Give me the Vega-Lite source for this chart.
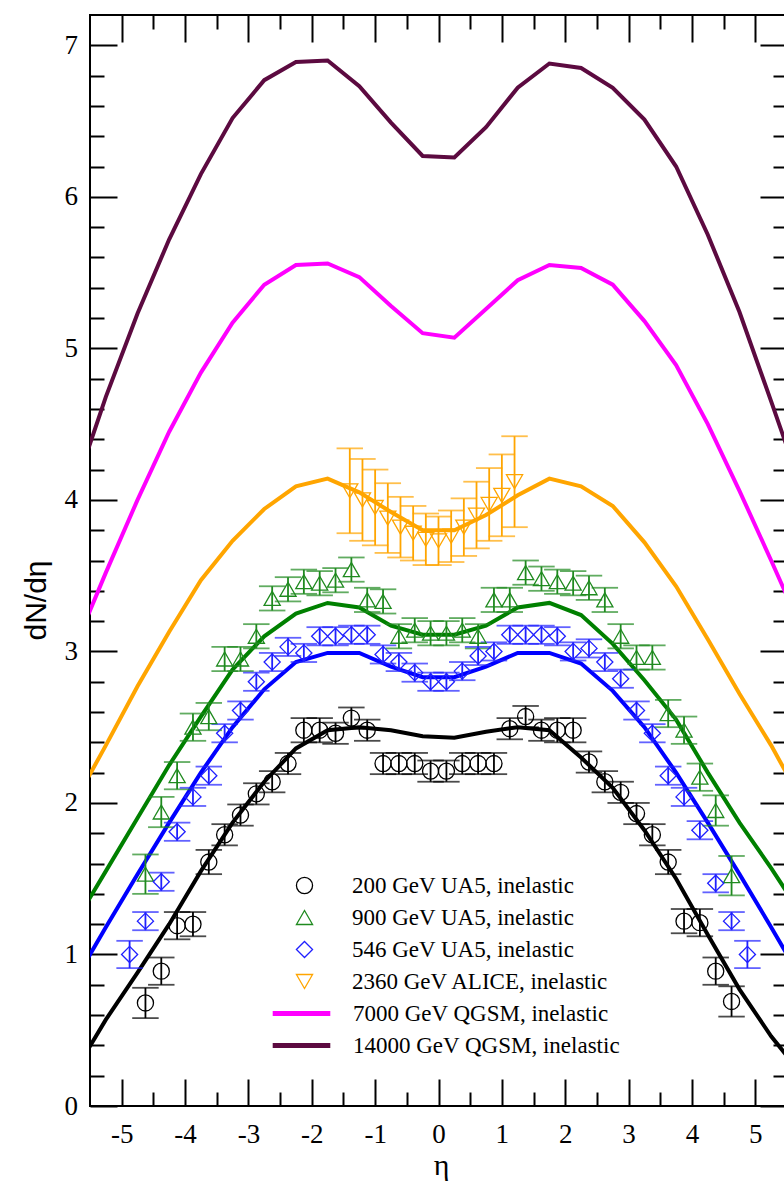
{
  "$schema": "https://vega.github.io/schema/vega-lite/v6.json",
  "width": 697,
  "height": 1091,
  "autosize": {"type": "none"},
  "padding": {"left": 90, "top": 15, "right": -3, "bottom": 78},
  "background": "white",
  "config": {
    "view": {"stroke": "black", "strokeWidth": 2},
    "axis": {"grid": false, "domain": false}
  },
  "datasets": {
    "curves": [
      {"model": "200 GeV QGSM", "eta": -5.75, "v": 0.22}, {"model": "200 GeV QGSM", "eta": -5.25, "v": 0.57}, {"model": "200 GeV QGSM", "eta": -4.75, "v": 0.88}, {"model": "200 GeV QGSM", "eta": -4.25, "v": 1.2}, {"model": "200 GeV QGSM", "eta": -3.75, "v": 1.55}, {"model": "200 GeV QGSM", "eta": -3.25, "v": 1.87}, {"model": "200 GeV QGSM", "eta": -2.75, "v": 2.14}, {"model": "200 GeV QGSM", "eta": -2.25, "v": 2.36}, {"model": "200 GeV QGSM", "eta": -1.75, "v": 2.48}, {"model": "200 GeV QGSM", "eta": -1.25, "v": 2.5}, {"model": "200 GeV QGSM", "eta": -0.75, "v": 2.48}, {"model": "200 GeV QGSM", "eta": -0.25, "v": 2.44}, {"model": "200 GeV QGSM", "eta": 0.25, "v": 2.43}, {"model": "200 GeV QGSM", "eta": 0.75, "v": 2.47}, {"model": "200 GeV QGSM", "eta": 1.25, "v": 2.5}, {"model": "200 GeV QGSM", "eta": 1.75, "v": 2.48}, {"model": "200 GeV QGSM", "eta": 2.25, "v": 2.3}, {"model": "200 GeV QGSM", "eta": 2.75, "v": 2.1}, {"model": "200 GeV QGSM", "eta": 3.25, "v": 1.82}, {"model": "200 GeV QGSM", "eta": 3.75, "v": 1.5}, {"model": "200 GeV QGSM", "eta": 4.25, "v": 1.13}, {"model": "200 GeV QGSM", "eta": 4.75, "v": 0.77}, {"model": "200 GeV QGSM", "eta": 5.25, "v": 0.46}, {"model": "200 GeV QGSM", "eta": 5.75, "v": 0.2},
      {"model": "546 GeV QGSM", "eta": -5.75, "v": 0.82}, {"model": "546 GeV QGSM", "eta": -5.25, "v": 1.18}, {"model": "546 GeV QGSM", "eta": -4.75, "v": 1.53}, {"model": "546 GeV QGSM", "eta": -4.25, "v": 1.87}, {"model": "546 GeV QGSM", "eta": -3.75, "v": 2.2}, {"model": "546 GeV QGSM", "eta": -3.25, "v": 2.5}, {"model": "546 GeV QGSM", "eta": -2.75, "v": 2.75}, {"model": "546 GeV QGSM", "eta": -2.25, "v": 2.93}, {"model": "546 GeV QGSM", "eta": -1.75, "v": 2.99}, {"model": "546 GeV QGSM", "eta": -1.25, "v": 2.99}, {"model": "546 GeV QGSM", "eta": -0.75, "v": 2.9}, {"model": "546 GeV QGSM", "eta": -0.25, "v": 2.83}, {"model": "546 GeV QGSM", "eta": 0.25, "v": 2.83}, {"model": "546 GeV QGSM", "eta": 0.75, "v": 2.9}, {"model": "546 GeV QGSM", "eta": 1.25, "v": 2.99}, {"model": "546 GeV QGSM", "eta": 1.75, "v": 2.99}, {"model": "546 GeV QGSM", "eta": 2.25, "v": 2.92}, {"model": "546 GeV QGSM", "eta": 2.75, "v": 2.74}, {"model": "546 GeV QGSM", "eta": 3.25, "v": 2.5}, {"model": "546 GeV QGSM", "eta": 3.75, "v": 2.2}, {"model": "546 GeV QGSM", "eta": 4.25, "v": 1.87}, {"model": "546 GeV QGSM", "eta": 4.75, "v": 1.53}, {"model": "546 GeV QGSM", "eta": 5.25, "v": 1.18}, {"model": "546 GeV QGSM", "eta": 5.75, "v": 0.82},
      {"model": "900 GeV QGSM", "eta": -5.75, "v": 1.2}, {"model": "900 GeV QGSM", "eta": -5.25, "v": 1.55}, {"model": "900 GeV QGSM", "eta": -4.75, "v": 1.9}, {"model": "900 GeV QGSM", "eta": -4.25, "v": 2.25}, {"model": "900 GeV QGSM", "eta": -3.75, "v": 2.57}, {"model": "900 GeV QGSM", "eta": -3.25, "v": 2.88}, {"model": "900 GeV QGSM", "eta": -2.75, "v": 3.1}, {"model": "900 GeV QGSM", "eta": -2.25, "v": 3.25}, {"model": "900 GeV QGSM", "eta": -1.75, "v": 3.32}, {"model": "900 GeV QGSM", "eta": -1.25, "v": 3.29}, {"model": "900 GeV QGSM", "eta": -0.75, "v": 3.17}, {"model": "900 GeV QGSM", "eta": -0.25, "v": 3.11}, {"model": "900 GeV QGSM", "eta": 0.25, "v": 3.11}, {"model": "900 GeV QGSM", "eta": 0.75, "v": 3.17}, {"model": "900 GeV QGSM", "eta": 1.25, "v": 3.29}, {"model": "900 GeV QGSM", "eta": 1.75, "v": 3.32}, {"model": "900 GeV QGSM", "eta": 2.25, "v": 3.24}, {"model": "900 GeV QGSM", "eta": 2.75, "v": 3.05}, {"model": "900 GeV QGSM", "eta": 3.25, "v": 2.81}, {"model": "900 GeV QGSM", "eta": 3.75, "v": 2.55}, {"model": "900 GeV QGSM", "eta": 4.25, "v": 2.2}, {"model": "900 GeV QGSM", "eta": 4.75, "v": 1.87}, {"model": "900 GeV QGSM", "eta": 5.25, "v": 1.57}, {"model": "900 GeV QGSM", "eta": 5.75, "v": 1.25},
      {"model": "2360 GeV QGSM", "eta": -5.75, "v": 2.0}, {"model": "2360 GeV QGSM", "eta": -5.25, "v": 2.38}, {"model": "2360 GeV QGSM", "eta": -4.75, "v": 2.77}, {"model": "2360 GeV QGSM", "eta": -4.25, "v": 3.13}, {"model": "2360 GeV QGSM", "eta": -3.75, "v": 3.47}, {"model": "2360 GeV QGSM", "eta": -3.25, "v": 3.73}, {"model": "2360 GeV QGSM", "eta": -2.75, "v": 3.94}, {"model": "2360 GeV QGSM", "eta": -2.25, "v": 4.09}, {"model": "2360 GeV QGSM", "eta": -1.75, "v": 4.14}, {"model": "2360 GeV QGSM", "eta": -1.25, "v": 4.05}, {"model": "2360 GeV QGSM", "eta": -0.75, "v": 3.92}, {"model": "2360 GeV QGSM", "eta": -0.25, "v": 3.8}, {"model": "2360 GeV QGSM", "eta": 0.25, "v": 3.8}, {"model": "2360 GeV QGSM", "eta": 0.75, "v": 3.9}, {"model": "2360 GeV QGSM", "eta": 1.25, "v": 4.03}, {"model": "2360 GeV QGSM", "eta": 1.75, "v": 4.14}, {"model": "2360 GeV QGSM", "eta": 2.25, "v": 4.09}, {"model": "2360 GeV QGSM", "eta": 2.75, "v": 3.96}, {"model": "2360 GeV QGSM", "eta": 3.25, "v": 3.72}, {"model": "2360 GeV QGSM", "eta": 3.75, "v": 3.43}, {"model": "2360 GeV QGSM", "eta": 4.25, "v": 3.08}, {"model": "2360 GeV QGSM", "eta": 4.75, "v": 2.72}, {"model": "2360 GeV QGSM", "eta": 5.25, "v": 2.38}, {"model": "2360 GeV QGSM", "eta": 5.75, "v": 2.0},
      {"model": "7000 GeV QGSM, inelastic", "eta": -5.75, "v": 3.02}, {"model": "7000 GeV QGSM, inelastic", "eta": -5.25, "v": 3.52}, {"model": "7000 GeV QGSM, inelastic", "eta": -4.75, "v": 4.0}, {"model": "7000 GeV QGSM, inelastic", "eta": -4.25, "v": 4.45}, {"model": "7000 GeV QGSM, inelastic", "eta": -3.75, "v": 4.84}, {"model": "7000 GeV QGSM, inelastic", "eta": -3.25, "v": 5.17}, {"model": "7000 GeV QGSM, inelastic", "eta": -2.75, "v": 5.42}, {"model": "7000 GeV QGSM, inelastic", "eta": -2.25, "v": 5.55}, {"model": "7000 GeV QGSM, inelastic", "eta": -1.75, "v": 5.56}, {"model": "7000 GeV QGSM, inelastic", "eta": -1.25, "v": 5.47}, {"model": "7000 GeV QGSM, inelastic", "eta": -0.75, "v": 5.28}, {"model": "7000 GeV QGSM, inelastic", "eta": -0.25, "v": 5.1}, {"model": "7000 GeV QGSM, inelastic", "eta": 0.25, "v": 5.07}, {"model": "7000 GeV QGSM, inelastic", "eta": 0.75, "v": 5.26}, {"model": "7000 GeV QGSM, inelastic", "eta": 1.25, "v": 5.45}, {"model": "7000 GeV QGSM, inelastic", "eta": 1.75, "v": 5.55}, {"model": "7000 GeV QGSM, inelastic", "eta": 2.25, "v": 5.53}, {"model": "7000 GeV QGSM, inelastic", "eta": 2.75, "v": 5.42}, {"model": "7000 GeV QGSM, inelastic", "eta": 3.25, "v": 5.18}, {"model": "7000 GeV QGSM, inelastic", "eta": 3.75, "v": 4.89}, {"model": "7000 GeV QGSM, inelastic", "eta": 4.25, "v": 4.5}, {"model": "7000 GeV QGSM, inelastic", "eta": 4.75, "v": 4.06}, {"model": "7000 GeV QGSM, inelastic", "eta": 5.25, "v": 3.6}, {"model": "7000 GeV QGSM, inelastic", "eta": 5.75, "v": 3.13},
      {"model": "14000 GeV QGSM, inelastic", "eta": -5.75, "v": 4.06}, {"model": "14000 GeV QGSM, inelastic", "eta": -5.25, "v": 4.68}, {"model": "14000 GeV QGSM, inelastic", "eta": -4.75, "v": 5.23}, {"model": "14000 GeV QGSM, inelastic", "eta": -4.25, "v": 5.72}, {"model": "14000 GeV QGSM, inelastic", "eta": -3.75, "v": 6.15}, {"model": "14000 GeV QGSM, inelastic", "eta": -3.25, "v": 6.52}, {"model": "14000 GeV QGSM, inelastic", "eta": -2.75, "v": 6.77}, {"model": "14000 GeV QGSM, inelastic", "eta": -2.25, "v": 6.89}, {"model": "14000 GeV QGSM, inelastic", "eta": -1.75, "v": 6.9}, {"model": "14000 GeV QGSM, inelastic", "eta": -1.25, "v": 6.73}, {"model": "14000 GeV QGSM, inelastic", "eta": -0.75, "v": 6.49}, {"model": "14000 GeV QGSM, inelastic", "eta": -0.25, "v": 6.27}, {"model": "14000 GeV QGSM, inelastic", "eta": 0.25, "v": 6.26}, {"model": "14000 GeV QGSM, inelastic", "eta": 0.75, "v": 6.46}, {"model": "14000 GeV QGSM, inelastic", "eta": 1.25, "v": 6.72}, {"model": "14000 GeV QGSM, inelastic", "eta": 1.75, "v": 6.88}, {"model": "14000 GeV QGSM, inelastic", "eta": 2.25, "v": 6.85}, {"model": "14000 GeV QGSM, inelastic", "eta": 2.75, "v": 6.72}, {"model": "14000 GeV QGSM, inelastic", "eta": 3.25, "v": 6.51}, {"model": "14000 GeV QGSM, inelastic", "eta": 3.75, "v": 6.2}, {"model": "14000 GeV QGSM, inelastic", "eta": 4.25, "v": 5.75}, {"model": "14000 GeV QGSM, inelastic", "eta": 4.75, "v": 5.24}, {"model": "14000 GeV QGSM, inelastic", "eta": 5.25, "v": 4.65}, {"model": "14000 GeV QGSM, inelastic", "eta": 5.75, "v": 4.05}
    ],
    "pts": [
      {"series": "200 GeV UA5, inelastic", "eta": -4.625, "v": 0.68, "lo": 0.58, "hi": 0.78},
      {"series": "200 GeV UA5, inelastic", "eta": -4.375, "v": 0.89, "lo": 0.8, "hi": 0.98},
      {"series": "200 GeV UA5, inelastic", "eta": -4.125, "v": 1.19, "lo": 1.1, "hi": 1.28},
      {"series": "200 GeV UA5, inelastic", "eta": -3.875, "v": 1.2, "lo": 1.12, "hi": 1.28},
      {"series": "200 GeV UA5, inelastic", "eta": -3.625, "v": 1.61, "lo": 1.53, "hi": 1.69},
      {"series": "200 GeV UA5, inelastic", "eta": -3.375, "v": 1.79, "lo": 1.72, "hi": 1.86},
      {"series": "200 GeV UA5, inelastic", "eta": -3.125, "v": 1.92, "lo": 1.85, "hi": 1.99},
      {"series": "200 GeV UA5, inelastic", "eta": -2.875, "v": 2.06, "lo": 1.99, "hi": 2.13},
      {"series": "200 GeV UA5, inelastic", "eta": -2.625, "v": 2.14, "lo": 2.07, "hi": 2.21},
      {"series": "200 GeV UA5, inelastic", "eta": -2.375, "v": 2.26, "lo": 2.19, "hi": 2.33},
      {"series": "200 GeV UA5, inelastic", "eta": -2.125, "v": 2.48, "lo": 2.4, "hi": 2.56},
      {"series": "200 GeV UA5, inelastic", "eta": -1.875, "v": 2.48, "lo": 2.4, "hi": 2.56},
      {"series": "200 GeV UA5, inelastic", "eta": -1.625, "v": 2.46, "lo": 2.39, "hi": 2.53},
      {"series": "200 GeV UA5, inelastic", "eta": -1.375, "v": 2.56, "lo": 2.49, "hi": 2.63},
      {"series": "200 GeV UA5, inelastic", "eta": -1.125, "v": 2.48, "lo": 2.41, "hi": 2.55},
      {"series": "200 GeV UA5, inelastic", "eta": -0.875, "v": 2.26, "lo": 2.19, "hi": 2.33},
      {"series": "200 GeV UA5, inelastic", "eta": -0.625, "v": 2.26, "lo": 2.19, "hi": 2.33},
      {"series": "200 GeV UA5, inelastic", "eta": -0.375, "v": 2.26, "lo": 2.19, "hi": 2.33},
      {"series": "200 GeV UA5, inelastic", "eta": -0.125, "v": 2.21, "lo": 2.14, "hi": 2.28},
      {"series": "200 GeV UA5, inelastic", "eta": 0.125, "v": 2.21, "lo": 2.14, "hi": 2.28},
      {"series": "200 GeV UA5, inelastic", "eta": 0.375, "v": 2.26, "lo": 2.19, "hi": 2.33},
      {"series": "200 GeV UA5, inelastic", "eta": 0.625, "v": 2.26, "lo": 2.19, "hi": 2.33},
      {"series": "200 GeV UA5, inelastic", "eta": 0.875, "v": 2.26, "lo": 2.19, "hi": 2.33},
      {"series": "200 GeV UA5, inelastic", "eta": 1.125, "v": 2.49, "lo": 2.42, "hi": 2.56},
      {"series": "200 GeV UA5, inelastic", "eta": 1.375, "v": 2.57, "lo": 2.5, "hi": 2.64},
      {"series": "200 GeV UA5, inelastic", "eta": 1.625, "v": 2.48, "lo": 2.41, "hi": 2.55},
      {"series": "200 GeV UA5, inelastic", "eta": 1.875, "v": 2.48, "lo": 2.4, "hi": 2.56},
      {"series": "200 GeV UA5, inelastic", "eta": 2.125, "v": 2.48, "lo": 2.4, "hi": 2.56},
      {"series": "200 GeV UA5, inelastic", "eta": 2.375, "v": 2.27, "lo": 2.2, "hi": 2.34},
      {"series": "200 GeV UA5, inelastic", "eta": 2.625, "v": 2.14, "lo": 2.07, "hi": 2.21},
      {"series": "200 GeV UA5, inelastic", "eta": 2.875, "v": 2.07, "lo": 2.0, "hi": 2.14},
      {"series": "200 GeV UA5, inelastic", "eta": 3.125, "v": 1.93, "lo": 1.86, "hi": 2.0},
      {"series": "200 GeV UA5, inelastic", "eta": 3.375, "v": 1.79, "lo": 1.72, "hi": 1.86},
      {"series": "200 GeV UA5, inelastic", "eta": 3.625, "v": 1.61, "lo": 1.53, "hi": 1.69},
      {"series": "200 GeV UA5, inelastic", "eta": 3.875, "v": 1.22, "lo": 1.14, "hi": 1.3},
      {"series": "200 GeV UA5, inelastic", "eta": 4.125, "v": 1.21, "lo": 1.12, "hi": 1.3},
      {"series": "200 GeV UA5, inelastic", "eta": 4.375, "v": 0.89, "lo": 0.8, "hi": 0.98},
      {"series": "200 GeV UA5, inelastic", "eta": 4.625, "v": 0.69, "lo": 0.59, "hi": 0.79},
      {"series": "900 GeV UA5, inelastic", "eta": -4.625, "v": 1.53, "lo": 1.4, "hi": 1.66},
      {"series": "900 GeV UA5, inelastic", "eta": -4.375, "v": 1.94, "lo": 1.84, "hi": 2.04},
      {"series": "900 GeV UA5, inelastic", "eta": -4.125, "v": 2.18, "lo": 2.09, "hi": 2.27},
      {"series": "900 GeV UA5, inelastic", "eta": -3.875, "v": 2.5, "lo": 2.41, "hi": 2.59},
      {"series": "900 GeV UA5, inelastic", "eta": -3.625, "v": 2.57, "lo": 2.48, "hi": 2.66},
      {"series": "900 GeV UA5, inelastic", "eta": -3.375, "v": 2.95, "lo": 2.87, "hi": 3.03},
      {"series": "900 GeV UA5, inelastic", "eta": -3.125, "v": 2.95, "lo": 2.87, "hi": 3.03},
      {"series": "900 GeV UA5, inelastic", "eta": -2.875, "v": 3.1, "lo": 3.02, "hi": 3.18},
      {"series": "900 GeV UA5, inelastic", "eta": -2.625, "v": 3.35, "lo": 3.27, "hi": 3.43},
      {"series": "900 GeV UA5, inelastic", "eta": -2.375, "v": 3.41, "lo": 3.33, "hi": 3.49},
      {"series": "900 GeV UA5, inelastic", "eta": -2.125, "v": 3.46, "lo": 3.38, "hi": 3.54},
      {"series": "900 GeV UA5, inelastic", "eta": -1.875, "v": 3.45, "lo": 3.37, "hi": 3.53},
      {"series": "900 GeV UA5, inelastic", "eta": -1.625, "v": 3.47, "lo": 3.39, "hi": 3.55},
      {"series": "900 GeV UA5, inelastic", "eta": -1.375, "v": 3.54, "lo": 3.46, "hi": 3.62},
      {"series": "900 GeV UA5, inelastic", "eta": -1.125, "v": 3.34, "lo": 3.26, "hi": 3.42},
      {"series": "900 GeV UA5, inelastic", "eta": -0.875, "v": 3.33, "lo": 3.25, "hi": 3.41},
      {"series": "900 GeV UA5, inelastic", "eta": -0.625, "v": 3.1, "lo": 3.02, "hi": 3.18},
      {"series": "900 GeV UA5, inelastic", "eta": -0.375, "v": 3.14, "lo": 3.06, "hi": 3.22},
      {"series": "900 GeV UA5, inelastic", "eta": -0.125, "v": 3.12, "lo": 3.04, "hi": 3.2},
      {"series": "900 GeV UA5, inelastic", "eta": 0.125, "v": 3.12, "lo": 3.04, "hi": 3.2},
      {"series": "900 GeV UA5, inelastic", "eta": 0.375, "v": 3.14, "lo": 3.06, "hi": 3.22},
      {"series": "900 GeV UA5, inelastic", "eta": 0.625, "v": 3.1, "lo": 3.02, "hi": 3.18},
      {"series": "900 GeV UA5, inelastic", "eta": 0.875, "v": 3.34, "lo": 3.26, "hi": 3.42},
      {"series": "900 GeV UA5, inelastic", "eta": 1.125, "v": 3.34, "lo": 3.26, "hi": 3.42},
      {"series": "900 GeV UA5, inelastic", "eta": 1.375, "v": 3.52, "lo": 3.44, "hi": 3.6},
      {"series": "900 GeV UA5, inelastic", "eta": 1.625, "v": 3.48, "lo": 3.4, "hi": 3.56},
      {"series": "900 GeV UA5, inelastic", "eta": 1.875, "v": 3.46, "lo": 3.38, "hi": 3.54},
      {"series": "900 GeV UA5, inelastic", "eta": 2.125, "v": 3.45, "lo": 3.37, "hi": 3.53},
      {"series": "900 GeV UA5, inelastic", "eta": 2.375, "v": 3.42, "lo": 3.34, "hi": 3.5},
      {"series": "900 GeV UA5, inelastic", "eta": 2.625, "v": 3.34, "lo": 3.26, "hi": 3.42},
      {"series": "900 GeV UA5, inelastic", "eta": 2.875, "v": 3.1, "lo": 3.02, "hi": 3.18},
      {"series": "900 GeV UA5, inelastic", "eta": 3.125, "v": 2.96, "lo": 2.88, "hi": 3.04},
      {"series": "900 GeV UA5, inelastic", "eta": 3.375, "v": 2.96, "lo": 2.88, "hi": 3.04},
      {"series": "900 GeV UA5, inelastic", "eta": 3.625, "v": 2.59, "lo": 2.5, "hi": 2.68},
      {"series": "900 GeV UA5, inelastic", "eta": 3.875, "v": 2.48, "lo": 2.39, "hi": 2.57},
      {"series": "900 GeV UA5, inelastic", "eta": 4.125, "v": 2.17, "lo": 2.08, "hi": 2.26},
      {"series": "900 GeV UA5, inelastic", "eta": 4.375, "v": 1.95, "lo": 1.85, "hi": 2.05},
      {"series": "900 GeV UA5, inelastic", "eta": 4.625, "v": 1.52, "lo": 1.39, "hi": 1.65},
      {"series": "546 GeV UA5, inelastic", "eta": -4.875, "v": 1.0, "lo": 0.91, "hi": 1.09},
      {"series": "546 GeV UA5, inelastic", "eta": -4.625, "v": 1.22, "lo": 1.16, "hi": 1.28},
      {"series": "546 GeV UA5, inelastic", "eta": -4.375, "v": 1.48, "lo": 1.42, "hi": 1.54},
      {"series": "546 GeV UA5, inelastic", "eta": -4.125, "v": 1.81, "lo": 1.75, "hi": 1.87},
      {"series": "546 GeV UA5, inelastic", "eta": -3.875, "v": 2.04, "lo": 1.98, "hi": 2.1},
      {"series": "546 GeV UA5, inelastic", "eta": -3.625, "v": 2.18, "lo": 2.12, "hi": 2.24},
      {"series": "546 GeV UA5, inelastic", "eta": -3.375, "v": 2.46, "lo": 2.4, "hi": 2.52},
      {"series": "546 GeV UA5, inelastic", "eta": -3.125, "v": 2.61, "lo": 2.55, "hi": 2.67},
      {"series": "546 GeV UA5, inelastic", "eta": -2.875, "v": 2.8, "lo": 2.74, "hi": 2.86},
      {"series": "546 GeV UA5, inelastic", "eta": -2.625, "v": 2.93, "lo": 2.87, "hi": 2.99},
      {"series": "546 GeV UA5, inelastic", "eta": -2.375, "v": 3.03, "lo": 2.97, "hi": 3.09},
      {"series": "546 GeV UA5, inelastic", "eta": -2.125, "v": 2.99, "lo": 2.93, "hi": 3.05},
      {"series": "546 GeV UA5, inelastic", "eta": -1.875, "v": 3.1, "lo": 3.04, "hi": 3.16},
      {"series": "546 GeV UA5, inelastic", "eta": -1.625, "v": 3.1, "lo": 3.04, "hi": 3.16},
      {"series": "546 GeV UA5, inelastic", "eta": -1.375, "v": 3.11, "lo": 3.05, "hi": 3.17},
      {"series": "546 GeV UA5, inelastic", "eta": -1.125, "v": 3.11, "lo": 3.05, "hi": 3.17},
      {"series": "546 GeV UA5, inelastic", "eta": -0.875, "v": 2.98, "lo": 2.92, "hi": 3.04},
      {"series": "546 GeV UA5, inelastic", "eta": -0.625, "v": 2.93, "lo": 2.87, "hi": 2.99},
      {"series": "546 GeV UA5, inelastic", "eta": -0.375, "v": 2.86, "lo": 2.8, "hi": 2.92},
      {"series": "546 GeV UA5, inelastic", "eta": -0.125, "v": 2.8, "lo": 2.74, "hi": 2.86},
      {"series": "546 GeV UA5, inelastic", "eta": 0.125, "v": 2.8, "lo": 2.74, "hi": 2.86},
      {"series": "546 GeV UA5, inelastic", "eta": 0.375, "v": 2.87, "lo": 2.81, "hi": 2.93},
      {"series": "546 GeV UA5, inelastic", "eta": 0.625, "v": 2.97, "lo": 2.91, "hi": 3.03},
      {"series": "546 GeV UA5, inelastic", "eta": 0.875, "v": 3.0, "lo": 2.94, "hi": 3.06},
      {"series": "546 GeV UA5, inelastic", "eta": 1.125, "v": 3.11, "lo": 3.05, "hi": 3.17},
      {"series": "546 GeV UA5, inelastic", "eta": 1.375, "v": 3.11, "lo": 3.05, "hi": 3.17},
      {"series": "546 GeV UA5, inelastic", "eta": 1.625, "v": 3.11, "lo": 3.05, "hi": 3.17},
      {"series": "546 GeV UA5, inelastic", "eta": 1.875, "v": 3.1, "lo": 3.04, "hi": 3.16},
      {"series": "546 GeV UA5, inelastic", "eta": 2.125, "v": 3.0, "lo": 2.94, "hi": 3.06},
      {"series": "546 GeV UA5, inelastic", "eta": 2.375, "v": 3.02, "lo": 2.96, "hi": 3.08},
      {"series": "546 GeV UA5, inelastic", "eta": 2.625, "v": 2.93, "lo": 2.87, "hi": 2.99},
      {"series": "546 GeV UA5, inelastic", "eta": 2.875, "v": 2.82, "lo": 2.76, "hi": 2.88},
      {"series": "546 GeV UA5, inelastic", "eta": 3.125, "v": 2.61, "lo": 2.55, "hi": 2.67},
      {"series": "546 GeV UA5, inelastic", "eta": 3.375, "v": 2.46, "lo": 2.4, "hi": 2.52},
      {"series": "546 GeV UA5, inelastic", "eta": 3.625, "v": 2.18, "lo": 2.12, "hi": 2.24},
      {"series": "546 GeV UA5, inelastic", "eta": 3.875, "v": 2.04, "lo": 1.98, "hi": 2.1},
      {"series": "546 GeV UA5, inelastic", "eta": 4.125, "v": 1.82, "lo": 1.76, "hi": 1.88},
      {"series": "546 GeV UA5, inelastic", "eta": 4.375, "v": 1.47, "lo": 1.41, "hi": 1.53},
      {"series": "546 GeV UA5, inelastic", "eta": 4.625, "v": 1.22, "lo": 1.16, "hi": 1.28},
      {"series": "546 GeV UA5, inelastic", "eta": 4.875, "v": 1.0, "lo": 0.91, "hi": 1.09},
      {"series": "2360 GeV ALICE, inelastic", "eta": -1.4, "v": 4.06, "lo": 3.78, "hi": 4.34},
      {"series": "2360 GeV ALICE, inelastic", "eta": -1.2, "v": 4.0, "lo": 3.73, "hi": 4.27},
      {"series": "2360 GeV ALICE, inelastic", "eta": -1.0, "v": 3.95, "lo": 3.7, "hi": 4.2},
      {"series": "2360 GeV ALICE, inelastic", "eta": -0.8, "v": 3.88, "lo": 3.65, "hi": 4.11},
      {"series": "2360 GeV ALICE, inelastic", "eta": -0.6, "v": 3.82, "lo": 3.62, "hi": 4.02},
      {"series": "2360 GeV ALICE, inelastic", "eta": -0.4, "v": 3.78, "lo": 3.6, "hi": 3.96},
      {"series": "2360 GeV ALICE, inelastic", "eta": -0.2, "v": 3.74, "lo": 3.57, "hi": 3.91},
      {"series": "2360 GeV ALICE, inelastic", "eta": 0.0, "v": 3.73, "lo": 3.57, "hi": 3.89},
      {"series": "2360 GeV ALICE, inelastic", "eta": 0.2, "v": 3.76, "lo": 3.59, "hi": 3.93},
      {"series": "2360 GeV ALICE, inelastic", "eta": 0.4, "v": 3.82, "lo": 3.63, "hi": 4.01},
      {"series": "2360 GeV ALICE, inelastic", "eta": 0.6, "v": 3.9, "lo": 3.68, "hi": 4.12},
      {"series": "2360 GeV ALICE, inelastic", "eta": 0.8, "v": 3.97, "lo": 3.73, "hi": 4.21},
      {"series": "2360 GeV ALICE, inelastic", "eta": 1.0, "v": 4.03, "lo": 3.76, "hi": 4.3},
      {"series": "2360 GeV ALICE, inelastic", "eta": 1.2, "v": 4.12, "lo": 3.82, "hi": 4.42}
    ]
  },
  "layer": [
    {
      "data": {"name": "curves"},
      "mark": {"type": "line", "strokeWidth": 4, "clip": true},
      "encoding": {
        "x": {
          "field": "eta", "type": "quantitative",
          "scale": {"domain": [-5.5, 5.5], "nice": false, "zero": false},
          "axis": {
            "orient": "bottom",
            "values": [-5, -4.5, -4, -3.5, -3, -2.5, -2, -1.5, -1, -0.5, 0, 0.5, 1, 1.5, 2, 2.5, 3, 3.5, 4, 4.5, 5],
            "tickSize": {"condition": {"test": "abs(datum.value - round(datum.value)) < 0.001", "value": -27}, "value": -14},
            "tickWidth": 2, "tickColor": "black",
            "labelExpr": "abs(datum.value - round(datum.value)) < 0.001 ? '' + round(datum.value) : ''",
            "labelFont": "Liberation Serif", "labelFontSize": 27, "labelColor": "black",
            "labelPadding": 42, "labelOverlap": false, "labelFlush": false,
            "title": "η", "titleFont": "Liberation Serif", "titleFontSize": 30, "titleFontWeight": "normal",
            "titleColor": "black", "titleBaseline": "alphabetic", "titleX": 351, "titleY": 68
          }
        },
        "y": {
          "field": "v", "type": "quantitative",
          "scale": {"domain": [0, 7.2], "nice": false, "zero": false},
          "axis": {
            "orient": "left",
            "values": [0, 0.2, 0.4, 0.6, 0.8, 1, 1.2, 1.4, 1.6, 1.8, 2, 2.2, 2.4, 2.6, 2.8, 3, 3.2, 3.4, 3.6, 3.8, 4, 4.2, 4.4, 4.6, 4.8, 5, 5.2, 5.4, 5.6, 5.8, 6, 6.2, 6.4, 6.6, 6.8, 7],
            "tickSize": {"condition": {"test": "abs(datum.value - round(datum.value)) < 0.001", "value": -27}, "value": -14},
            "tickWidth": 2, "tickColor": "black",
            "labelExpr": "abs(datum.value - round(datum.value)) < 0.001 ? '' + round(datum.value) : ''",
            "labelFont": "Liberation Serif", "labelFontSize": 27, "labelColor": "black",
            "labelPadding": 39.5, "labelOverlap": false, "labelFlush": false,
            "title": "dN/dη", "titleFont": "Liberation Sans", "titleFontSize": 30, "titleFontWeight": "normal",
            "titleColor": "black", "titleAngle": -90, "titleBaseline": "alphabetic", "titleAlign": "center",
            "titleX": -45, "titleY": 585
          }
        },
        "color": {
          "field": "model", "type": "nominal",
          "scale": {
            "domain": ["200 GeV QGSM", "546 GeV QGSM", "900 GeV QGSM", "2360 GeV QGSM", "7000 GeV QGSM, inelastic", "14000 GeV QGSM, inelastic"],
            "range": ["#000000", "#0000ff", "#008000", "#ffa500", "#ff00ff", "#5c0a40"]
          },
          "legend": {
            "values": ["7000 GeV QGSM, inelastic", "14000 GeV QGSM, inelastic"],
            "title": null, "orient": "none", "legendX": 200, "legendY": 987, "padding": 0,
            "symbolType": "M-3.6,0H3.6", "symbolSize": 256, "symbolStrokeWidth": 5,
            "labelFont": "Liberation Serif", "labelFontSize": 23, "labelColor": "black",
            "labelOffset": 40, "rowPadding": 8, "labelLimit": 400
          }
        }
      }
    },
    {
      "data": {"name": "pts"},
      "mark": {"type": "rule", "strokeWidth": 1.8},
      "encoding": {
        "x": {"field": "eta", "type": "quantitative", "axis": null},
        "y": {"field": "lo", "type": "quantitative", "axis": null},
        "y2": {"field": "hi"},
        "stroke": {
          "field": "series", "type": "nominal", "legend": null,
          "scale": {"domain": ["200 GeV UA5, inelastic", "900 GeV UA5, inelastic", "546 GeV UA5, inelastic", "2360 GeV ALICE, inelastic"], "range": ["#000000", "#1f8a1f", "#2020ff", "#ffa500"]}
        }
      }
    },
    {
      "data": {"name": "pts"},
      "mark": {"type": "point", "shape": "stroke", "size": 700, "strokeWidth": 1.8, "filled": false},
      "encoding": {
        "x": {"field": "eta", "type": "quantitative", "axis": null},
        "y": {"field": "lo", "type": "quantitative", "axis": null},
        "stroke": {"field": "series", "type": "nominal", "legend": null}
      }
    },
    {
      "data": {"name": "pts"},
      "mark": {"type": "point", "shape": "stroke", "size": 700, "strokeWidth": 1.8, "filled": false},
      "encoding": {
        "x": {"field": "eta", "type": "quantitative", "axis": null},
        "y": {"field": "hi", "type": "quantitative", "axis": null},
        "stroke": {"field": "series", "type": "nominal", "legend": null}
      }
    },
    {
      "data": {"name": "pts"},
      "mark": {"type": "point", "filled": false, "size": 260, "strokeWidth": 1.3, "opacity": 1},
      "encoding": {
        "x": {
          "field": "eta", "type": "quantitative",
          "axis": {
            "orient": "top",
            "values": [-5, -4.5, -4, -3.5, -3, -2.5, -2, -1.5, -1, -0.5, 0, 0.5, 1, 1.5, 2, 2.5, 3, 3.5, 4, 4.5, 5],
            "tickSize": {"condition": {"test": "abs(datum.value - round(datum.value)) < 0.001", "value": -27}, "value": -14},
            "tickWidth": 2, "tickColor": "black", "labels": false, "title": null
          }
        },
        "y": {
          "field": "v", "type": "quantitative",
          "axis": {
            "orient": "right",
            "values": [0, 0.2, 0.4, 0.6, 0.8, 1, 1.2, 1.4, 1.6, 1.8, 2, 2.2, 2.4, 2.6, 2.8, 3, 3.2, 3.4, 3.6, 3.8, 4, 4.2, 4.4, 4.6, 4.8, 5, 5.2, 5.4, 5.6, 5.8, 6, 6.2, 6.4, 6.6, 6.8, 7],
            "tickSize": {"condition": {"test": "abs(datum.value - round(datum.value)) < 0.001", "value": -27}, "value": -14},
            "tickWidth": 2, "tickColor": "black", "labels": false, "title": null
          }
        },
        "shape": {
          "field": "series", "type": "nominal",
          "scale": {"domain": ["200 GeV UA5, inelastic", "900 GeV UA5, inelastic", "546 GeV UA5, inelastic", "2360 GeV ALICE, inelastic"], "range": ["circle", "triangle-up", "diamond", "triangle-down"]},
          "legend": {
            "title": null, "orient": "none", "legendX": 203, "legendY": 859, "padding": 0,
            "symbolSize": 260, "symbolStrokeWidth": 1.3,
            "labelFont": "Liberation Serif", "labelFontSize": 23, "labelColor": "black",
            "labelOffset": 36, "rowPadding": 8, "labelLimit": 400
          }
        },
        "stroke": {
          "field": "series", "type": "nominal",
          "legend": {
            "title": null, "orient": "none", "legendX": 203, "legendY": 859, "padding": 0,
            "symbolSize": 260, "symbolStrokeWidth": 1.3,
            "labelFont": "Liberation Serif", "labelFontSize": 23, "labelColor": "black",
            "labelOffset": 36, "rowPadding": 8, "labelLimit": 400
          }
        }
      }
    }
  ],
  "resolve": {
    "axis": {"x": "independent", "y": "independent"},
    "legend": {"stroke": "independent", "shape": "independent"}
  }
}
